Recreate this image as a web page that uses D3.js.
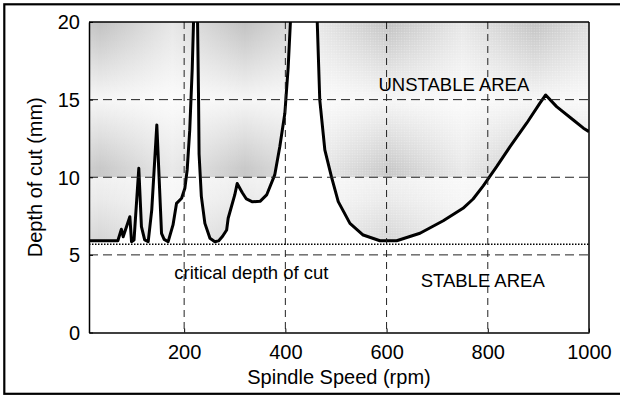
<!DOCTYPE html>
<html><head><meta charset="utf-8">
<script src="https://cdn.jsdelivr.net/npm/d3@7"></script>
<style>body{margin:0;background:#fff}svg text{font-family:Arial,"Liberation Sans",sans-serif;fill:#000}</style>
</head><body><svg id="c" width="620" height="397"></svg>
<script>
// Spindle speed (rpm) and stability-lobe depth of cut (mm)
const rpm = [12,69,76,79.5,92.7,96,101,110.4,115.6,122,129,136,146,155.3,160.5,168.4,178,185,195,201.4,206,211,216,219,222,226.5,228.5,229.5,234,241,251,260.7,268,276,284,287,300,304.8,315,323,335,350,363,379,389,399,405.6,410,420,435,450,463,468,478,491,504.5,527.6,553.8,587,620,666,712,751,771,791,817.5,844,876.8,903,914.4,936,969,989,1000];
const depth = [5.91,5.91,6.65,6.17,7.46,5.85,5.96,10.58,6.82,5.96,5.85,7.9,13.37,6.39,6.0,5.85,6.93,8.32,8.65,9.29,10.47,13.0,17.0,20.5,22,20,15,11.5,8.77,7.03,6.07,5.85,5.9,6.2,6.6,7.36,8.86,9.6,9.0,8.6,8.42,8.45,8.86,10.15,11.97,14.12,17.1,20,26,30,26,20,14.98,11.76,10.04,8.43,7.03,6.28,5.91,5.91,6.39,7.2,8.0,8.6,9.45,10.68,11.97,13.48,14.77,15.3,14.55,13.69,13.16,12.94];
const xTicks = [200,400,600,800,1000];
const yTicks = [0,5,10,15,20];
const xGrid = [200,400,600,800];
const yGrid = [5,10,15];
const criticalDepth = 5.68;
const xTitle = "Spindle Speed (rpm)";
const yTitle = "Depth of cut (mm)";
const labels = [
  {text:"UNSTABLE AREA", x:733, y:15.57, anchor:"middle"},
  {text:"STABLE AREA", x:790, y:2.91, anchor:"middle"},
  {text:"critical depth of cut", x:180.5, y:3.43, anchor:"start"}
];

const data = rpm.map((r,i)=>({r, d:depth[i]}));
const svg = d3.select("#c");
const L=89, R=589, T=22, B=332.5;
const x = d3.scaleLinear().domain([12,1000]).range([L,R]);
const y = d3.scaleLinear().domain([0,20]).range([B,T]);

// outer frame (right edge cut off)
svg.append("rect").attr("x",4.3).attr("y",4.3).attr("width",700).attr("height",389.5)
  .attr("fill","none").attr("stroke","#000").attr("stroke-width",2.2);

const defs = svg.append("defs");
defs.append("clipPath").attr("id","plot").append("rect")
  .attr("x",L).attr("y",T).attr("width",R-L).attr("height",B-T);
const vg = defs.append("linearGradient").attr("id","vgrad")
  .attr("gradientUnits","userSpaceOnUse").attr("x1",0).attr("x2",0).attr("y1",T).attr("y2",B);
[[0,"#c2c2c2"],[0.09,"#d4d4d4"],[0.25,"#f6f6f6"],[0.38,"#dcdcdc"],[0.47,"#c9c9c9"],[0.4985,"#c8c8c8"],[0.501,"#f1f1f1"],[0.57,"#eaeaea"],[0.70,"#d6d6d6"],[1,"#d0d0d0"]]
  .forEach(s=>vg.append("stop").attr("offset",s[0]).attr("stop-color",s[1]));
const hg = defs.append("linearGradient").attr("id","hgrad").attr("x1",0).attr("x2",1).attr("y1",0).attr("y2",0);
[[0,0],[0.5,0.6],[1,0]].forEach(s=>hg.append("stop").attr("offset",s[0]).attr("stop-color","#fff").attr("stop-opacity",s[1]));
const hp = defs.append("pattern").attr("id","hpat").attr("patternUnits","userSpaceOnUse")
  .attr("x",100).attr("y",0).attr("width",145).attr("height",400);
hp.append("rect").attr("width",145).attr("height",400).attr("fill","url(#hgrad)");
const dp = defs.append("pattern").attr("id","dots").attr("patternUnits","userSpaceOnUse")
  .attr("width",2.6).attr("height",2.6);
dp.append("circle").attr("cx",1.3).attr("cy",1.3).attr("r",0.7).attr("fill","#fff").attr("fill-opacity",0.35);
defs.append("clipPath").attr("id","right").append("rect")
  .attr("x",x(425)).attr("y",T).attr("width",R-x(425)).attr("height",B-T);

const area = d3.area().x(d=>x(d.r)).y0(y(20)).y1(d=>y(d.d));
const g = svg.append("g").attr("clip-path","url(#plot)");
g.append("path").datum(data).attr("d",area).attr("fill","url(#vgrad)");
g.append("path").datum(data).attr("d",area).attr("fill","url(#hpat)");
g.append("g").attr("clip-path","url(#right)").append("path").datum(data).attr("d",area).attr("fill","url(#dots)");

// grid
svg.selectAll(".gx").data(xGrid).join("line").attr("x1",d=>x(d)).attr("x2",d=>x(d))
  .attr("y1",T).attr("y2",B).attr("stroke","#222").attr("stroke-width",1).attr("stroke-dasharray","7,5");
svg.selectAll(".gy").data(yGrid).join("line").attr("x1",L).attr("x2",R)
  .attr("y1",d=>y(d)).attr("y2",d=>y(d)).attr("stroke","#222").attr("stroke-width",1).attr("stroke-dasharray","9,5");
// critical depth
svg.append("line").attr("x1",L).attr("x2",R).attr("y1",y(criticalDepth)).attr("y2",y(criticalDepth))
  .attr("stroke","#000").attr("stroke-width",1.5).attr("stroke-dasharray","1.5,1.5");

// curve
g.append("path").datum(data).attr("d",d3.line().x(d=>x(d.r)).y(d=>y(d.d)))
  .attr("fill","none").attr("stroke","#000").attr("stroke-width",3).attr("stroke-linejoin","round");

// axes
const xa = svg.append("g").attr("transform",`translate(0,${B})`)
  .call(d3.axisBottom(x).tickValues(xTicks).tickFormat(d3.format("d")).tickSize(-4).tickPadding(12).tickSizeOuter(0));
const ya = svg.append("g").attr("transform",`translate(${L},0)`)
  .call(d3.axisLeft(y).tickValues(yTicks).tickFormat(d3.format("d")).tickSize(-4).tickPadding(9).tickSizeOuter(0));
[xa,ya].forEach(a=>{a.selectAll("text").attr("font-size",20).attr("font-family",'Arial,"Liberation Sans",sans-serif');
  a.selectAll("line").attr("stroke","#000");a.select(".domain").attr("stroke","#000").attr("stroke-width",1.5);});
ya.selectAll("text").attr("dy","0.34em");
svg.append("line").attr("x1",L).attr("x2",R).attr("y1",T).attr("y2",T).attr("stroke","#000").attr("stroke-width",1.5);
svg.append("line").attr("x1",R).attr("x2",R).attr("y1",T).attr("y2",B).attr("stroke","#000").attr("stroke-width",1.5);

svg.append("text").attr("x",(L+R)/2).attr("y",384).attr("text-anchor","middle").attr("font-size",20).text(xTitle);
svg.append("text").attr("transform",`translate(41.5,${(T+B)/2}) rotate(-90)`).attr("text-anchor","middle").attr("font-size",20).text(yTitle);

svg.selectAll(".lab").data(labels).join("text").attr("x",d=>x(d.x)).attr("y",d=>y(d.y))
  .attr("text-anchor",d=>d.anchor).attr("font-size",18.5).text(d=>d.text);
</script></body></html>
